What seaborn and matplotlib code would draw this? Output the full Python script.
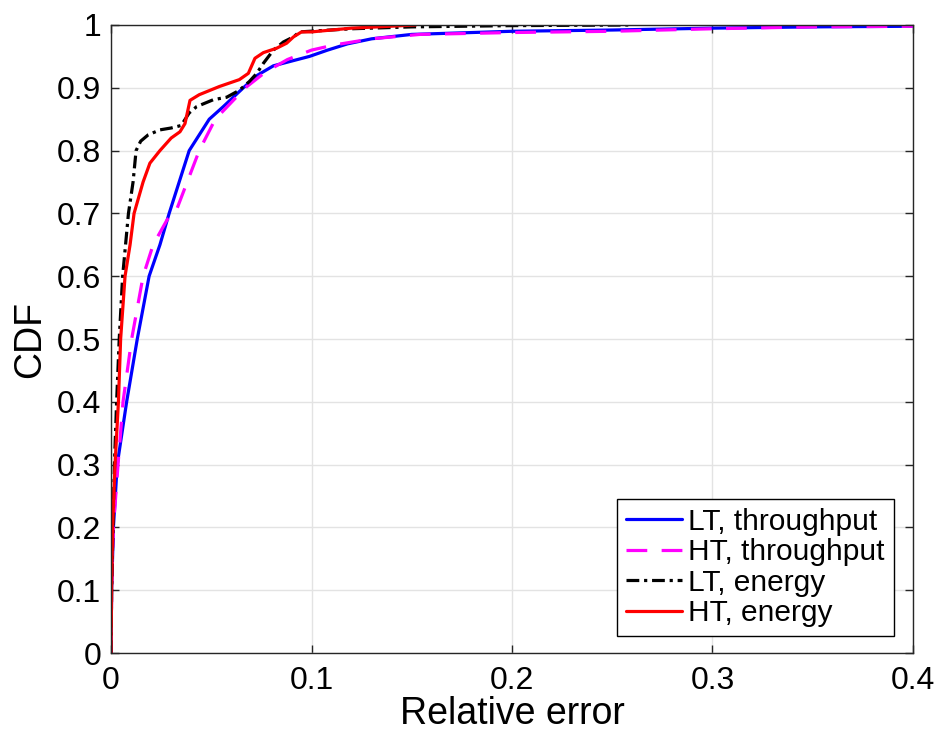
import matplotlib
matplotlib.use("Agg")
import matplotlib.pyplot as plt
import seaborn as sns
import pandas as pd

# Empirical CDF of relative prediction error, one curve per model/metric
lt_thr_x = [0, 0.0003, 0.0012, 0.0031, 0.0078, 0.0131, 0.019, 0.0244, 0.029, 0.034,
            0.039, 0.043, 0.049, 0.056, 0.066, 0.073, 0.081, 0.093, 0.099, 0.108,
            0.118, 0.13, 0.15, 0.2, 0.25, 0.3, 0.35, 0.4]
lt_thr_y = [0, 0.1, 0.2, 0.3, 0.4, 0.5, 0.6, 0.65, 0.7, 0.75,
            0.8, 0.82, 0.85, 0.87, 0.9, 0.92, 0.935, 0.945, 0.95, 0.96,
            0.97, 0.978, 0.985, 0.99, 0.992, 0.995, 0.997, 0.998]

ht_thr_x = [0, 0.0003, 0.0012, 0.0035, 0.006, 0.0103, 0.016, 0.021, 0.028, 0.032,
            0.038, 0.044, 0.052, 0.061, 0.067, 0.077, 0.088, 0.1, 0.111, 0.13,
            0.154, 0.2, 0.25, 0.3, 0.35, 0.4]
ht_thr_y = [0, 0.1, 0.2, 0.3, 0.4, 0.5, 0.6, 0.65, 0.69, 0.7,
            0.75, 0.8, 0.85, 0.88, 0.9, 0.925, 0.945, 0.96, 0.968, 0.978,
            0.985, 0.988, 0.99, 0.994, 0.997, 0.998]

lt_en_x = [0, 0.0003, 0.001, 0.0017, 0.0028, 0.0041, 0.0058, 0.0087, 0.011, 0.0125,
           0.0148, 0.0185, 0.0244, 0.030, 0.035, 0.039, 0.0427, 0.051, 0.0577, 0.064,
           0.069, 0.0727, 0.076, 0.081, 0.086, 0.091, 0.094, 0.12, 0.15, 0.2, 0.258]
lt_en_y = [0, 0.1, 0.2, 0.3, 0.4, 0.5, 0.6, 0.7, 0.75, 0.8,
           0.815, 0.825, 0.833, 0.836, 0.84, 0.86, 0.87, 0.881, 0.885, 0.896,
           0.91, 0.923, 0.939, 0.96, 0.973, 0.981, 0.989, 0.994, 0.997, 0.999, 1.0]

ht_en_x = [0, 0.0003, 0.0008, 0.002, 0.0037, 0.0048, 0.007, 0.0095, 0.0115, 0.016,
           0.0194, 0.0244, 0.030, 0.0344, 0.0369, 0.0394, 0.044, 0.054, 0.064, 0.0685,
           0.0718, 0.076, 0.0826, 0.0876, 0.091, 0.095, 0.1, 0.12, 0.152]
ht_en_y = [0, 0.1, 0.2, 0.3, 0.4, 0.5, 0.6, 0.65, 0.7, 0.75,
           0.78, 0.8, 0.82, 0.83, 0.843, 0.88, 0.889, 0.902, 0.913, 0.923,
           0.947, 0.956, 0.963, 0.971, 0.981, 0.989, 0.989, 0.995, 1.0]

labels = ["LT, throughput", "HT, throughput", "LT, energy", "HT, energy"]
xticks = [0, 0.1, 0.2, 0.3, 0.4]
yticks = [0, 0.1, 0.2, 0.3, 0.4, 0.5, 0.6, 0.7, 0.8, 0.9, 1]

series = [
    (labels[0], lt_thr_x, lt_thr_y, "#0000ff", None),
    (labels[1], ht_thr_x, ht_thr_y, "#ff00ff", (6.5, 4.5)),
    (labels[2], lt_en_x, lt_en_y, "#000000", (4, 1.5, 1, 1.5)),
    (labels[3], ht_en_x, ht_en_y, "#ff0000", None),
]

sns.set_theme(style="white")
plt.rcParams["font.family"] = ["Liberation Sans", "DejaVu Sans"]
plt.rcParams["text.color"] = "black"
plt.rcParams["axes.labelcolor"] = "black"

fig = plt.figure(figsize=(9.36, 7.33), dpi=100)
ax = fig.add_axes([0.1186, 0.1091, 0.8568, 0.8568])

for name, xs, ys, color, dash in series:
    df = pd.DataFrame({"err": xs, "cdf": ys})
    sns.lineplot(data=df, x="err", y="cdf", ax=ax, color=color, lw=2.3,
                 sort=False, estimator=None, label=name)
    ln = ax.get_lines()[-1]
    if dash is not None:
        ln.set_dashes(dash)

ax.set_xlim(0, 0.4)
ax.set_ylim(0, 1)
ax.set_xticks(xticks)
ax.set_xticklabels([f"{t:g}" for t in xticks])
ax.set_yticks(yticks)
ax.set_yticklabels([f"{t:g}" for t in yticks])
ax.grid(True, color="#e3e3e3", lw=1.0)
ax.set_axisbelow(True)
ax.tick_params(direction="in", length=6, width=1, colors="#262626",
               labelcolor="black", labelsize=23, top=True, right=True,
               bottom=True, left=True)
ax.tick_params(axis="x", pad=9)
ax.tick_params(axis="y", pad=7)
for s in ax.spines.values():
    s.set_color("#262626")
    s.set_linewidth(1.0)
ax.set_xlabel("Relative error", fontsize=27, labelpad=0)
ax.set_ylabel("CDF", fontsize=27, labelpad=6)

leg = ax.legend(loc="lower right", bbox_to_anchor=(0.976, 0.027), fontsize=21.5,
                frameon=True, fancybox=False, framealpha=1, edgecolor="black",
                handlelength=1.87, handletextpad=0.2, labelspacing=0.08,
                borderpad=0.3, borderaxespad=0)
leg.get_frame().set_linewidth(1.0)

fig.savefig("out.png", dpi=100)
